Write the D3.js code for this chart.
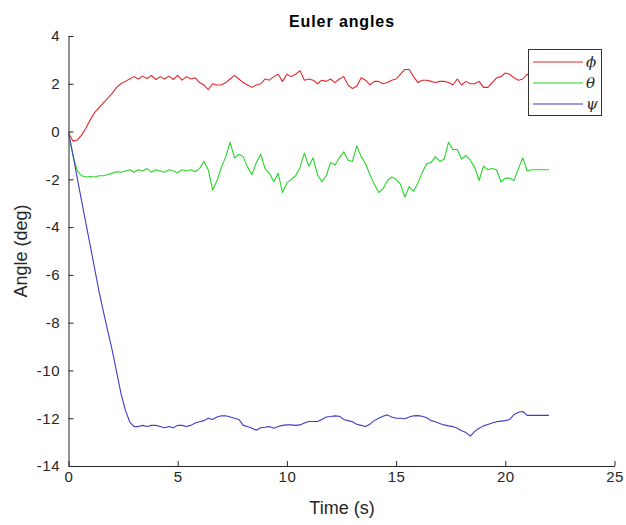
<!DOCTYPE html>
<html>
<head>
<meta charset="utf-8">
<script src="https://cdn.jsdelivr.net/npm/d3@7"></script>
<style>
  html, body { margin: 0; padding: 0; background: #fff; }
  svg { display: block; }
  text { font-family: "Liberation Sans", Arial, sans-serif; fill: #262626; }
</style>
</head>
<body>
<svg id="chart" width="626" height="525"></svg>
<script>
const dt = 0.2;
const phi = [
  -0.05,-0.40,-0.35,-0.15,0.15,0.50,0.80,1.00,1.20,1.40,
  1.60,1.85,2.00,2.10,2.20,2.30,2.20,2.32,2.22,2.35,
  2.18,2.30,2.20,2.32,2.18,2.35,2.15,2.30,2.20,2.25,
  2.05,1.95,1.75,2.00,1.95,1.95,2.05,2.20,2.35,2.20,
  2.05,1.95,1.85,1.95,2.00,2.20,2.15,2.30,2.40,2.10,
  2.40,2.30,2.40,2.55,2.15,2.20,2.15,2.00,2.15,2.10,
  2.20,2.05,2.20,2.30,1.95,1.80,1.90,2.25,2.15,1.95,
  2.10,2.10,2.00,2.05,2.15,2.20,2.40,2.60,2.60,2.30,
  2.05,2.15,2.15,2.10,2.05,2.10,2.10,2.05,1.95,2.20,
  1.95,2.10,2.00,2.00,2.10,1.85,1.85,2.05,2.25,2.30,
  2.45,2.40,2.25,2.15,2.20,2.40,2.30,2.20,2.25,2.30,
  2.30
];
const theta = [
  -0.05,-1.00,-1.65,-1.85,-1.90,-1.88,-1.90,-1.85,-1.85,-1.80,
  -1.75,-1.68,-1.70,-1.65,-1.60,-1.70,-1.60,-1.65,-1.55,-1.70,
  -1.60,-1.65,-1.70,-1.60,-1.65,-1.72,-1.60,-1.65,-1.60,-1.68,
  -1.55,-1.25,-1.60,-2.45,-2.05,-1.50,-1.05,-0.45,-1.10,-0.95,
  -1.05,-1.50,-1.80,-1.30,-0.95,-1.55,-1.75,-2.10,-1.75,-2.55,
  -2.15,-2.00,-1.85,-1.50,-0.90,-1.45,-1.10,-1.80,-2.10,-1.85,
  -1.30,-1.40,-1.10,-0.85,-1.20,-1.25,-0.60,-1.05,-1.35,-1.80,
  -2.20,-2.55,-2.40,-2.05,-1.90,-2.00,-2.20,-2.75,-2.30,-2.50,
  -2.15,-1.70,-1.35,-1.30,-1.05,-1.25,-1.15,-0.45,-0.75,-0.75,
  -1.15,-1.00,-1.20,-1.50,-2.05,-1.45,-1.60,-1.55,-1.60,-2.10,
  -1.95,-1.95,-2.05,-1.55,-1.10,-1.65,-1.60,-1.60,-1.60,-1.60,
  -1.60
];
const psi = [
  -0.05,-0.95,-1.95,-2.90,-3.85,-4.80,-5.75,-6.70,-7.55,-8.35,
  -9.15,-10.05,-10.95,-11.65,-12.15,-12.35,-12.35,-12.30,-12.35,-12.30,
  -12.30,-12.35,-12.40,-12.35,-12.40,-12.30,-12.30,-12.35,-12.30,-12.20,
  -12.15,-12.10,-12.00,-12.05,-11.95,-11.90,-11.90,-11.95,-12.00,-12.05,
  -12.30,-12.35,-12.42,-12.50,-12.40,-12.38,-12.35,-12.42,-12.35,-12.30,
  -12.28,-12.28,-12.30,-12.28,-12.20,-12.14,-12.14,-12.14,-12.05,-11.95,
  -11.93,-11.90,-11.92,-12.05,-12.10,-12.15,-12.25,-12.30,-12.35,-12.25,
  -12.10,-12.00,-11.92,-11.86,-11.95,-12.00,-12.00,-12.02,-11.95,-11.90,
  -11.89,-11.92,-11.98,-12.10,-12.15,-12.22,-12.28,-12.32,-12.35,-12.42,
  -12.52,-12.60,-12.75,-12.55,-12.42,-12.32,-12.26,-12.20,-12.15,-12.12,
  -12.10,-12.05,-11.85,-11.75,-11.72,-11.88,-11.88,-11.88,-11.88,-11.88,
  -11.88
];
const seriesNames = ["\u03D5", "\u03B8", "\u03C8"];
const seriesColors = ["#e3262b", "#25d625", "#3c3cc4"];
const xTicks = [0, 5, 10, 15, 20, 25];
const yTicks = [-14, -12, -10, -8, -6, -4, -2, 0, 2, 4];

// ---- layout ----
const svg = d3.select("#chart");
const x = d3.scaleLinear().domain([0, 25]).range([68.5, 614.5]);
const y = d3.scaleLinear().domain([-14, 4]).range([466, 36]);

// title
svg.append("text").attr("x", 342).attr("y", 27).attr("text-anchor", "middle")
  .style("font-size", "16px").style("font-weight", "bold").style("letter-spacing", "0.9px")
  .style("fill", "#000").text("Euler angles");

// axes
const fmt = d => String(d);
const xAxis = d3.axisBottom(x).tickValues(xTicks).tickFormat(fmt).tickSizeInner(-5).tickSizeOuter(0).tickPadding(5.5);
const yAxis = d3.axisLeft(y).tickValues(yTicks).tickFormat(fmt).tickSizeInner(-5).tickSizeOuter(0).tickPadding(8.5);

const gx = svg.append("g").attr("transform", `translate(0,${y(-14)})`).call(xAxis);
const gy = svg.append("g").attr("transform", `translate(${x(0)},0)`).call(yAxis);
[gx, gy].forEach(g => {
  g.select(".domain").attr("stroke", "#262626").attr("stroke-width", 1);
  g.selectAll(".tick line").attr("stroke", "#262626");
  g.selectAll("text").style("font-size", "15px").style("font-family", "'Liberation Sans', Arial, sans-serif")
    .attr("fill", "#262626").style("letter-spacing", "0.5px");
});

// axis labels
svg.append("text").attr("x", 342).attr("y", 514).attr("text-anchor", "middle")
  .style("font-size", "18px").text("Time (s)");
svg.append("text").attr("transform", `translate(27,${y(-5)}) rotate(-90)`).attr("text-anchor", "middle")
  .style("font-size", "18px").text("Angle (deg)");

// lines
const allSeries = [phi, theta, psi];
const line = d3.line().x((d, i) => x(i * dt)).y(d => y(d));
allSeries.forEach((s, k) => {
  svg.append("path").datum(s).attr("d", line)
    .attr("fill", "none").attr("stroke", seriesColors[k]).attr("stroke-width", 1.1)
    .attr("stroke-linejoin", "round");
});

// legend
const lg = svg.append("g");
lg.append("rect").attr("x", 528.5).attr("y", 49.5).attr("width", 73).attr("height", 66)
  .attr("fill", "#fff").attr("stroke", "#333").attr("stroke-width", 1);
seriesNames.forEach((name, k) => {
  const yy = 62 + k * 21;
  lg.append("line").attr("x1", 533).attr("x2", 583).attr("y1", yy).attr("y2", yy)
    .attr("stroke", seriesColors[k]).attr("stroke-width", 1.1);
  lg.append("text").attr("x", 586).attr("y", yy + 5)
    .style("font-family", "'DejaVu Serif', 'Liberation Serif', serif").style("font-style", "italic")
    .style("font-size", "15px").attr("fill", "#333").text(name);
});
</script>
</body>
</html>
